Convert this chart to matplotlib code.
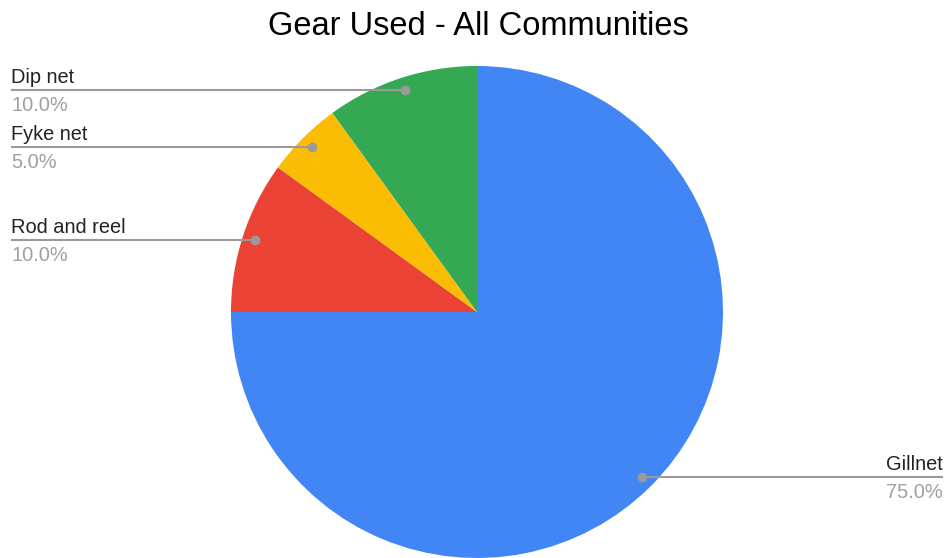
import numpy as np
import matplotlib
matplotlib.use("Agg")
import matplotlib.pyplot as plt

# Gear types and their share of responses
categories = ["Gillnet", "Rod and reel", "Fyke net", "Dip net"]
values = [75.0, 10.0, 5.0, 10.0]
colors = ["#4285F4", "#EA4335", "#FBBC04", "#34A853"]
title = "Gear Used - All Communities"

W, H = 946, 558
fig = plt.figure(figsize=(W / 100, H / 100), dpi=100)
ax = fig.add_axes([0, 0, 1, 1])

cx, cy, R = 477, H - 312, 246
ax.pie(values, colors=colors, startangle=90, counterclock=False,
       center=(cx, cy), radius=R, frame=True,
       wedgeprops=dict(linewidth=0))
ax.set_xlim(0, W)
ax.set_ylim(0, H)
ax.set_aspect("equal")
ax.axis("off")

font = "Liberation Sans"
ax.text(cx + 1, H - 35, title, ha="center", va="baseline", fontsize=23.5,
        family=font, color="#000000")

line_col = "#9a9a9a"
total = sum(values)
start = 0.0
for name, v in zip(categories, values):
    mid = (start + v / 2) / total
    start += v
    ang = np.deg2rad(90 - mid * 360)
    dx, dy = 0.95 * R * np.cos(ang), 0.95 * R * np.sin(ang)
    px, py = cx + dx, cy + dy
    ax.plot([px], [py], "o", color=line_col, markersize=6, zorder=5)
    if dx < 0:
        x_end, ha = 11, "left"
    else:
        x_end, ha = 943, "right"
    ax.plot([px, x_end], [py, py], color=line_col, lw=1.5, zorder=4,
            solid_capstyle="butt")
    ax.text(x_end, py + 7, name, ha=ha, va="baseline", fontsize=14.4,
            family=font, color="#222222")
    ax.text(x_end, py - 21, f"{v:.1f}%", ha=ha, va="baseline", fontsize=14.4,
            family=font, color="#a0a0a0")

fig.savefig("out.png", dpi=100, facecolor="white")
